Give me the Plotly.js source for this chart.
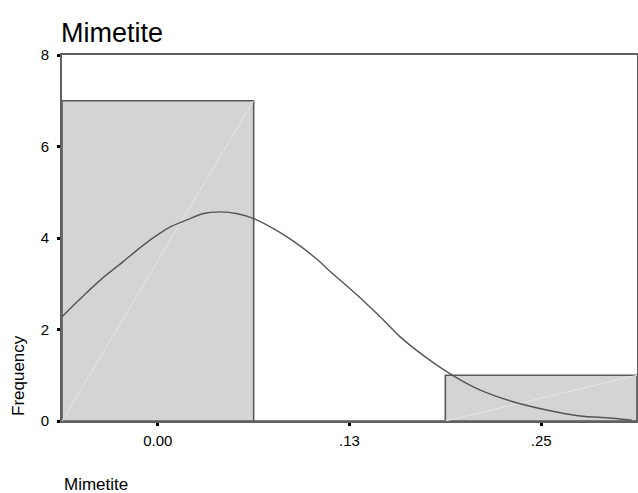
<!DOCTYPE html>
<html>
<head>
<meta charset="utf-8">
<script src="https://cdn.plot.ly/plotly-3.0.1.min.js"></script>
<style>
  html, body { margin: 0; padding: 0; background: #ffffff; }
  #chart { width: 638px; height: 493px; }
</style>
</head>
<body>
<div id="chart"></div>
<script>
// Histogram bins (centre of each bin) and their counts
const binCenters = [0, 0.125, 0.25];
const binWidth = 0.125;
const counts = [7, 0, 1];

// Axis tick positions and their printed labels
const tickValues = [0, 0.125, 0.25];
const tickLabels = ['0.00', '.13', '.25'];
const freqTicks = [0, 2, 4, 6, 8];

// Fitted normal curve, sampled along the x axis
const curveX = [-0.0625, -0.0482, -0.0351, -0.0220, -0.0111, -0.0024, 0.0085, 0.0193,
                0.0291, 0.0412, 0.0520, 0.0629, 0.0793, 0.0923, 0.1032, 0.1141,
                0.1250, 0.1359, 0.1468, 0.1577, 0.1773, 0.1936, 0.2100, 0.2317,
                0.2535, 0.2753, 0.2970, 0.3091];
const curveY = [2.28, 2.75, 3.15, 3.50, 3.80, 4.02, 4.25, 4.40,
                4.53, 4.57, 4.53, 4.42, 4.13, 3.84, 3.55, 3.22,
                2.90, 2.57, 2.22, 1.85, 1.33, 0.97, 0.68, 0.42,
                0.24, 0.11, 0.06, 0.02];

const FONT = 'Liberation Sans, Arial, Helvetica, sans-serif';

const traces = [];

traces.push({
  type: 'bar',
  x: binCenters,
  y: counts,
  width: binCenters.map(() => binWidth),
  marker: { color: '#d4d4d4', line: { color: '#595959', width: 1.6 } },
  hoverinfo: 'skip',
  showlegend: false
});

// faint corner-to-corner hatch line inside each filled bar
binCenters.forEach((c, i) => {
  if (counts[i] > 0) {
    traces.push({
      type: 'scatter', mode: 'lines',
      x: [c - binWidth / 2, c + binWidth / 2],
      y: [0, counts[i]],
      line: { color: '#e4e4e4', width: 1 },
      hoverinfo: 'skip', showlegend: false
    });
  }
});

traces.push({
  type: 'scatter', mode: 'lines',
  x: curveX, y: curveY,
  line: { color: '#555555', width: 1.4, shape: 'spline', smoothing: 0.6 },
  hoverinfo: 'skip', showlegend: false
});

const layout = {
  width: 638, height: 493,
  margin: { l: 62, r: 1, t: 55, b: 72, pad: 0 },
  paper_bgcolor: '#ffffff',
  plot_bgcolor: '#ffffff',
  font: { family: FONT, color: '#000000', size: 15 },
  bargap: 0,
  title: {
    text: 'Mimetite',
    font: { family: FONT, size: 27, color: '#000000' },
    xref: 'container', x: 61 / 638, xanchor: 'left',
    yref: 'container', y: 1 - 33 / 493, yanchor: 'middle'
  },
  xaxis: {
    range: [-0.0625, 0.3125],
    tickmode: 'array', tickvals: tickValues, ticktext: tickLabels,
    ticks: 'outside', ticklen: 3, tickwidth: 3, tickcolor: '#000000',
    ticklabelstandoff: 2,
    showline: true, linecolor: '#606060', linewidth: 2, mirror: true,
    showgrid: false, zeroline: false,
    tickfont: { family: FONT, size: 15 }
  },
  yaxis: {
    range: [0, 8],
    tickmode: 'array', tickvals: freqTicks,
    ticks: 'outside', ticklen: 3, tickwidth: 3, tickcolor: '#000000',
    ticklabelstandoff: 5,
    showline: true, linecolor: '#606060', linewidth: 2, mirror: true,
    showgrid: false, zeroline: false,
    tickfont: { family: FONT, size: 15 }
  },
  annotations: [
    {
      text: 'Frequency', textangle: -90,
      xref: 'paper', yref: 'paper',
      x: (18 - 62) / 575, y: (421 - 376) / 366,
      xanchor: 'center', yanchor: 'middle', showarrow: false,
      font: { family: FONT, size: 17, color: '#000000' }
    },
    {
      text: 'Mimetite',
      xref: 'paper', yref: 'paper',
      x: 0, y: (421 - 484) / 366,
      xanchor: 'left', yanchor: 'middle', showarrow: false,
      font: { family: FONT, size: 17, color: '#000000' }
    }
  ]
};

Plotly.newPlot('chart', traces, layout, { staticPlot: true, displayModeBar: false });
</script>
</body>
</html>
